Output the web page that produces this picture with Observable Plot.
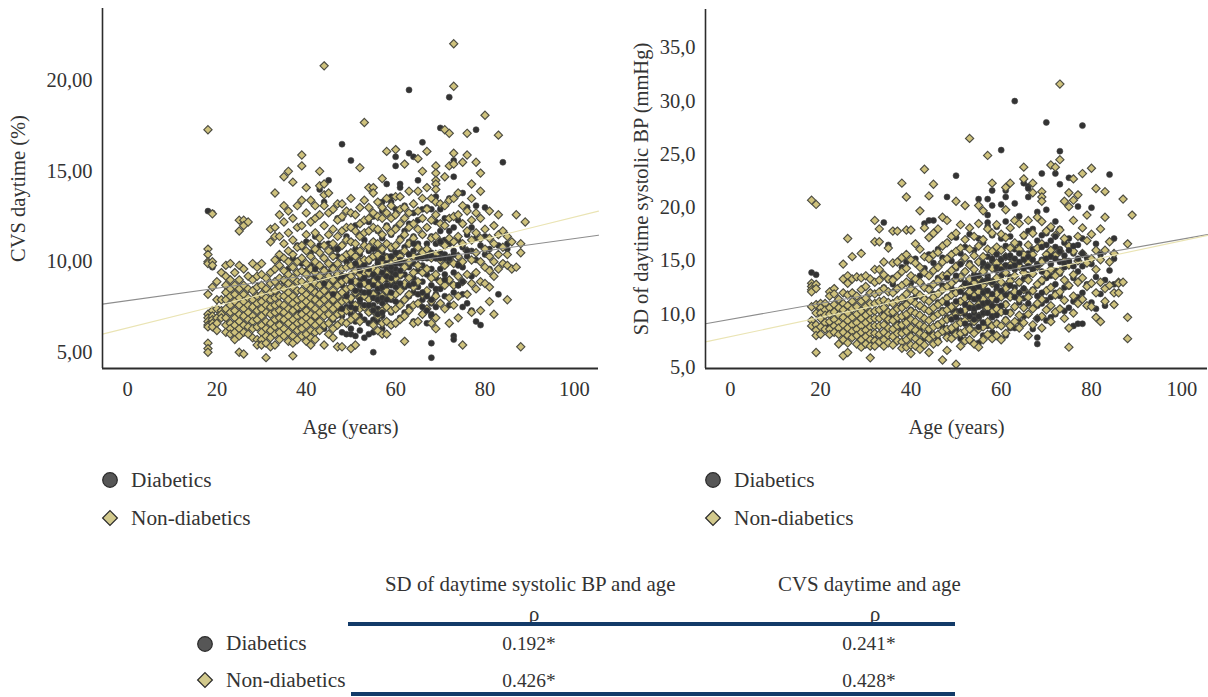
<!DOCTYPE html>
<html><head><meta charset="utf-8">
<script src="https://cdn.jsdelivr.net/npm/d3@7"></script>
<script src="https://cdn.jsdelivr.net/npm/@observablehq/plot@0.6"></script>
<style>
html,body{margin:0;padding:0;background:#fff}
#page{position:relative;width:1208px;height:697px;overflow:hidden;font-family:"Liberation Serif",serif;color:#333}
#page svg{position:absolute;overflow:visible}
.t{position:absolute;white-space:nowrap;font-size:21.3px;line-height:24px;transform:translateY(-50%)}
.h{font-size:20.9px}
.n{font-size:19.4px}
.c{transform:translate(-50%,-50%)}
.r{position:absolute;height:3.5px;background:#123a68}
</style></head><body><div id="page"></div>
<script>
// Each row: age, then the values read at that age.
const cvsNonDiabetics = [
[18,17.3,10.7,10.4,10,9.9,8.2,7.1,6.9,6.7,6.5,6.4,5.5,5.2,5],
[19,12.65,10,9.8,8.6,7.3,7,6.8,6.6,6.4],
[20,8.9,7.9,7.4,6.9,6.6,6.2],[21,9.4,7.9,7.3,7.1,6.9],
[22,9.8,9.2,8.7,8.3,7.9,7.4,6.9,6.5,6.1],[23,9.9,9,8.5,8.1,7.6,7.2,6.6,6.3,6],
[24,9.4,8.7,8.2,7.8,7.3,6.9,6.5,6.1,5.7],[25,12.3,11.7,9.8,9,8.5,8,7.6,7.1,6.7,6.3,5.9,5],
[26,12.3,12,9.6,8.7,8.2,7.8,7.4,7,6.5,6.1,4.9],[27,12.2,9.2,8.5,8,7.6,7.2,6.8,6.4,6],
[28,9.9,9,8.4,7.9,7.5,7,6.7,6.3,5.8],[29,9.7,9.2,8.6,8.1,7.7,7.3,6.8,6.4,5.7,5.4],
[30,9.9,9.3,8.7,8.2,7.8,7.4,7,6.5,6.1,5.7,5.4],[31,9.1,8.5,8,7.6,7.2,6.7,6.3,5.9,5.5,4.7],
[32,11.8,11.1,9.4,8.8,8.3,7.9,7.5,7.1,6.6,6.2,5.8,5.3],[33,13.8,11.9,11.4,10.1,9.6,8.9,8.4,8,7.6,7.2,6.8,6.4,6,5.4],
[34,12.6,11.4,10.4,9.8,9.1,8.6,8.1,7.7,7.3,6.9,6.5,6.1,5.7],[35,14.7,13.1,12.2,11,10.2,9.5,9,8.5,8.1,7.6,7.2,6.8,6.3,5.9],
[36,15,12.8,11.6,10.6,10,9.3,8.8,8.3,7.9,7.4,7,6.6,6.1,5.6],[37,14.4,12.4,11.2,10.4,9.7,9.1,8.6,8.1,7.7,7.3,6.8,6.4,5.9,5.5,4.8],
[38,13.1,11.9,10.8,10,9.4,8.9,8.4,7.9,7.5,7,6.6,6.2,5.7],[39,15.9,15.3,13.4,12,10.9,10.2,9.5,8.9,8.4,8,7.6,7.1,6.7,6.3,5.9],
[40,14.1,12.7,11.5,10.6,9.9,9.3,8.7,8.2,7.8,7.3,6.9,6.5,6,5.6],[41,13.4,12.2,11,10.3,9.6,9,8.5,8,7.6,7.1,6.7,6.2,5.8,5.4],
[42,13.1,12.4,11.6,10.7,10,9.4,8.8,8.3,7.9,7.4,7,6.5,6.1,5.7],[43,15,14.2,12.6,11.3,10.5,9.8,9.2,8.7,8.2,7.7,7.2,6.7,6.2],
[44,20.83,14.3,13.7,13.1,12,10.9,10.2,9.5,8.9,8.4,7.9,7.4,7,6.5,5.4],[45,13.8,12.7,11.5,10.6,9.9,9.2,8.7,8.1,7.6,7.1,6.6,6],
[46,12.9,11.8,11,10.3,9.6,9,8.4,7.9,7.4,6.9,6.3,5.8],[47,13.2,12.3,11.4,10.7,9.9,9.3,8.7,8.1,7.6,7.1,6.5,5.3],
[48,13.2,12.5,11.7,10.9,10.2,9.6,8.9,8.3,7.8,7.2,6.7,5.3],[49,12.8,11.9,11.2,10.4,9.7,9,8.5,7.9,7.3,6.6],
[50,13.5,12.7,11.9,11.1,10.5,9.8,9.2,8.6,8,7.4,6.8,5.2],[51,12.6,11.7,11,10.3,9.5,8.9,8.3,7.6,7,5.4],
[52,15.2,13,12.1,11.4,10.6,10,9.3,8.7,8,7.4,6.7],[53,17.7,13.4,12.3,11.6,10.9,10.1,9.4,8.8,8.1,7.5],
[54,14.1,13,12.4,11.7,10.8,10.1,9.4,8.6,7.9,7.2],[55,14.1,13.8,12.7,11.9,11.1,10.3,9.6,8.9,8.2,7.3,6.5],
[56,13.3,12.5,11.8,11,10.4,9.5,8.7,7.9,7,6.2],[57,14.6,13,12.4,11.5,10.7,9.9,9,8.1,7.3,6.6,6],
[58,16.1,13.5,12.7,11.9,11,10.2,9.3,8.4,7.5,6.7,6],[59,13.1,12.4,11.6,10.8,9.9,9,8.1,7.3,6.5],
[60,16.2,13.6,12.6,11.8,10.9,10.1,9.1,8.2,7.4,6.6],[61,13.6,12.9,12.1,11.2,10.3,9.3,8.4,7.6,6.8],
[62,15.4,13,12.4,11.5,10.6,9.7,8.8,7.9,7,5.6],[63,13.9,12.7,11.9,11,10,9.1,8.2,7.3],
[64,13.2,12.1,11.3,10.3,9.4,8.6,7.6,6.6],[65,15.7,13.9,12.8,11.8,10.8,9.8,8.9,7.7,6.7],
[66,15,13.5,12.4,11.5,10.5,9.4,8.2,7.1],[67,16.1,14.1,12.9,11.9,10.7,9.6,8.4,7.4],
[68,13.5,12.3,11.3,10.2,9.1,7.8,6.6],[69,15.3,14.9,14.5,14.3,14,13.3,12.6,11.4,10.4,9.3,8.1,6.9,6.3],
[70,13.2,12.1,11.1,10.1,8.9,7.7],[71,17.3,14.7,13.1,12,10.9,9.8,8.7,7.4],
[72,17.1,15.3,13.4,12.4,11.3,10.2,9,8,6.6],[73,22.05,19.7,16,15.4,13.5,12.5,11.1,9.9,8.7,7.6],
[74,13.8,12.6,11.4,10.3,9.2,8.1,6.9],[75,15.5,13.1,12.1,11,10,8.9,5.4],
[76,17.1,15.9,12.8,11.7,10.6,9.3,8.2],[77,14.3,13.5,12.3,11.2,10.1,8.8,7.2],
[78,15.5,12.7,11.6,10.5,9.4,8.5],[79,14.9,13.9,12.4,11.3,10,7.3,8.9],
[80,18.1,11.8,10.7,9.7,8.8],[81,12.8,11.3,10.3,9.5,7.8,8.6],
[82,12,11,10,7.1,9.2],[83,17,12.6,11.5,10.4,9.6],[84,11.7,10.8,9.9],[85,11.4,10.4,9.8,7.9],
[86,11.1,9.6],[87,12.6,9.7],[88,11,10.5,5.3],[89,12.2]
];
const cvsDiabetics = [
[18,12.8],[19,12.7,9.7],[20,6.9],[22,6.9],[25,5.9],[31,5.9],[33,8.3],[34,10.2,6.9,6.7],[35,11,8.9],[36,9.6,8.1],[37,10.2,7.4],
[38,10.9,9.4,7.2],[39,10.8,9.9,8.4,7.2],[40,11.1,9.5,8.2,7.5,6.6],[41,10.5,9.8,8.7,7.8,7],[42,11.4,9.2,8.4,6.9],
[43,14,10.9,9.1,8,7.1],[44,13.3,10.2,9.6,8.6,7.4,6.3],[45,14.5,11,9.4,8.2,7.6],[46,10.7,9.8,8.8,7.7,6.8],
[47,12.4,10.3,9.1,8.2,7.3,6.5],[48,16.5,12.4,10.9,9.6,8.7,7.9,7,6.1],[49,11.4,10,9.2,8.3,7.5,6],[50,15.6,11.1,10.2,9.3,8.6,7.8,7.1,6.3,6],
[51,12,10.7,9.6,8.9,8.2,7.4,6.7,5.9],[52,11.5,10.4,9.8,9,8.4,7.7,7,6.2],[53,11.2,10.1,9.4,8.8,8.2,7.5,6.8,5.8],
[54,12.2,10.6,10,9.3,8.7,8,7.2,6.6,6],[55,12.5,11.1,10.3,9.6,9,8.3,7.6,6.8,6.1,5],[56,11.7,10.7,10.1,9.4,8.8,8.2,7.4,6.7],
[57,13.3,12.8,11.3,10.5,9.8,9.1,8.5,7.7,7,6.3],[58,14.3,12,11,10.3,9.6,9,8.3,7.5,6.7],[59,13.6,13.3,11.5,10.7,10,9.4,8.7,7.9,7.2,6.5],
[60,15.8,15.3,12.9,11.9,10.9,10.2,9.6,8.9,8.2,7.4,6.6],[61,14.3,14.1,12.9,11.3,10.5,9.9,9.2,8.5,7.7,6.9],[62,13.1,11.7,10.8,10,9.3,8.6,7.2],
[63,19.5,16,12.1,11.1,10.4,9.7,8.1,7.5],[64,15.8,12.7,11.4,10.6,9.9,9.1,8.3,6.7],[65,14.5,12.3,11,10.3,9.5,8.6,7.7],
[66,16.6,12.9,11.5,10.6,9.8,8.9,7.9,7.1],[67,13,11.9,11,10.2,9.3,8.3,7.4,6.6],[68,12.9,11.4,10.5,9.6,8.7,7.7,7,5.5,4.7],
[69,13.6,12.2,11,10.2,9.1,8.2,7.5],[70,17.4,12.9,11.7,10.5,9.6,8.5],[71,12.4,11.2,10.4,9.3,8.1],[72,19.1,13.5,12.4,11,10,8.9,7.6],
[73,15.6,14.7,11.9,10.6,9.4,8.3,5.9,5.7],[74,12.3,11.2,9.9,8.7],[75,13.8,12.1,10.8,9.7,8.2,7.5],[76,13,11.5,10.3,7.7],
[77,11.9,10.6,9.2,7.3],[78,17.3,13.1,11.3,10.1,6.7],[79,10.9,6.5],[80,13,11.4,10.4],[81,10.7,9.6],[83,10.9,8.2],[84,15.5,9.9],[85,11,10.7]
];
// Diabetic points that sit in front of the diamonds.
const cvsDiabeticsFront = [
[42,9.6],[44,8.8],[46,8.2],[47,10.7],[48,9.2,7.4],[49,8.1],[50,8.9,7.5],[51,9.9,8.4,7.4],[52,9.5,8.7,7.9],
[53,9.8,9.1,8.3,7.6],[54,9.6,8.9,8.3,7.6],[55,10.7,9.3,8.7,8,7.3],[56,9.9,9.1,8.5,7.9,7.1],[57,10.2,9.4,8.6,8,7.2],
[58,9.9,9.2,8.7,7.9],[59,10.3,9.7,9.1,8.3],[60,10.5,9.9,9.3,8.6,7.8],[61,10.1,9.5,8.8],
[63,10.4,8.7],[64,11,8.8],[65,10.2,8.2],[66,10.2,8.3,7.5],[67,10.3,8.1,7.3],[68,10.3,7.9,7.1],[69,10.2,8.5],[70,11.1,10.2],[71,10.2,9],[72,11.7,10.2],[73,10.4],[74,9.8,8.7],[75,8.9],[76,10.6]
];
const sdNonDiabetics = [
[18,20.7,12.9,12.6,12.3,12.1,10.7,9.4,8.9],[19,20.3,12.8,12.4,10.9,10.1,9,8.5,8,6.4],
[20,11,10.6,10.1,9.6,8.8,8.1],[21,11,10.4,9.9,9.2,8.6],[22,12.1,11.7,10.6,10,9.3,8.6,8.1],[23,12.4,11.9,10.9,10.2,9.5,8.9,8.3],
[24,11.4,10.6,9.9,9.2,8.7,8.1,7.2],[25,14.7,13.3,12,11,10.4,9.7,9,8.3,7.6,6.1],[26,17.1,13.6,12.9,11.8,10.8,10.1,9.4,8.7,8,7.3,6.4],
[27,15.4,13.3,12,11.2,10.5,9.7,9,8.4,7.8],[28,13.5,11.7,10.7,10,9.2,8.6,8,7.2],[29,15.7,13.4,12.3,11.2,10.3,9.6,8.9,8.3,7.6,6.9],
[30,13.6,12.6,11.5,10.7,9.9,9.2,8.5,7.9,7.2],[31,13.3,12,11,10.2,9.5,8.8,8.2,7.6,7,5.9],[32,18.8,16.8,14.2,13,11.9,11,10.3,9.6,8.9,8.2,7.5,7],
[33,18,16.8,14.2,13.2,12.1,11.2,10.4,9.6,8.9,8.1,7.4],[34,14.9,13.7,12.4,11.3,10.6,9.8,9,8.3,7.6,7],[35,16.2,13.3,12.1,11.1,10.2,9.5,8.7,8,7.3],
[36,17.8,14.8,13.2,12,11,10.2,9.4,8.6,7.9,7.1],[37,17.8,14.9,13.6,12.4,11.3,10.5,9.7,8.9,8.2,7.5],[38,22.3,15.3,14,12.7,11.5,10.6,9.8,9,8.2,7.4,6.8],
[39,21,17.9,15.6,14.3,13,11.9,10.9,10,9.2,8.4,7.6,6.9],[40,17.9,15.1,13.6,12.4,11.3,10.3,9.5,8.7,7.9,7.1,6.3],[41,16.6,14.8,13.3,12.1,11,10.1,9.3,8.5,7.7,7],
[42,19.7,16.1,14.4,13,11.8,10.8,9.9,9,8.2,7.4,6.7],[43,23.6,18.1,15.4,13.9,12.5,11.4,10.5,9.6,8.8,8,7.1],[44,21.1,17.2,15.2,13.6,12.3,11.2,10.3,9.4,8.6,7.7,6.4],
[45,22.2,17.6,15.6,14.1,12.8,11.6,10.6,9.7,8.8,8,7.2],[46,18,15.8,14.4,13.1,11.9,10.9,10,9,8.1,7.4],[47,19.1,16.4,14.9,13.6,12.3,11.2,10.2,9.3,8.4,5.7],
[48,18.8,16.7,15.2,13.7,12.6,11.5,10.4,9.5,8.6,7.8,6.6],[49,17.3,15.6,14.1,12.9,11.8,10.7,9.7,8.7,7.7],[50,20.6,17.6,15.9,14.5,13.3,12,11,10,9,8.1,5.3],
[51,18.4,16.2,14.8,13.5,12.3,11.2,10.2,9.2,8.2,7],[52,20.2,17,15.3,14,12.7,11.5,10.4,9.4,8.4,7.5],[53,26.5,18.1,16.1,14.6,13.3,12.1,10.9,9.7,8.6,7.6],
[54,17.3,15.5,14.2,12.9,11.7,10.5,9.3,8.2,7.2],[55,20.2,18.5,16.4,14.9,13.4,12.1,10.9,9.8,8.6,6.9],[56,19.7,17,15.4,14,12.7,11.4,10.1,8.8,7.6],
[57,24.9,18,16.1,14.5,13.2,11.9,10.6,9.3,8.1],[58,22.3,17.6,15.9,14.3,12.9,11.5,10.2,8.9,7.7],[59,18.4,16.3,14.8,13.4,11.9,10.5,9.1,8],
[60,17.5,16,14.4,13,11.6,10.2,8.9,7.6],[61,21.9,19.8,17.2,15.4,13.9,12.4,10.9,9.4,8.2],[62,22.3,18.1,16.2,14.6,13.1,11.6,10.1,8.9],
[63,18.8,16.7,15,13.6,12.1,10.7,9.3],[64,18.5,16.1,14.5,13,11.4,9.9,8.7],[65,23.8,22.7,17.4,15.6,13.9,12.3,10.6,9.2],
[66,18.8,16.5,14.8,13.2,11.6,10,8],[67,22.3,21.4,17.6,15.6,13.8,12.2,10.5,9],[68,19.1,16.2,14.5,12.8,11,9.6],
[69,21.5,21,20.6,18.7,16.6,14.9,13.2,11.4,9.8,8.7],[70,17.8,15.6,13.8,12.2,10.4],[71,24,18.2,16,14.2,12.5,10.8,9.3],
[72,23.8,17.4,15.5,13.6,11.8,10.2],[73,31.6,24.5,17.9,15.9,14,12.1,10.5],[74,20.6,17.1,15,13.2,11.3,9.6],[75,21.4,20.1,16.4,14.6,12.7,8.7,6.9],
[76,22.7,20.7,18.8,15.9,13.7,11.7,10.1],[77,21.2,17.3,15,13,11],[78,23.2,18.1,15.7,13.4,11.4],[79,19.3,16.9,14.8,12.6,10.8],
[80,23.7,17.5,15.2,12.9,10.7],[81,21.8,16,14.2,12,9.7],[82,18,15.1,13,9.3],[83,21.5,19.1,16,12.4,11.2],[84,16.8,14.9,12.7],
[85,15.7,12,10.9],[86,13,12.9,12],[87,20.8,13],[88,16.6,9.7,7.7],[89,19.3]
];
const sdDiabetics = [
[18,13.9],[19,13.7],[22,9],[29,6.9],[32,7.6],[34,18.6,12.5,10.2,9.9],[35,16.5,13.2,9.4],[36,13.4,12.8,9.7],[37,13.6,9.2,8.2],[38,14.4,10.8,8.7],
[39,14.9,11.1,9.6],[40,12.9,10.4,8.4],[41,15.2,11.6,9.2],[42,13.6,10.7,8.6],[43,18.5,14.3,11.5,9.5,7.7],[44,18.8,15.6,12.6,10.3,8.3],
[45,18.8,14.8,11.9,9.9,8.1],[46,16.1,13.4,11.1,9.1,7.6],[47,15.3,12.7,10.4,8.8],[48,21,16.7,13.6,11.6,9.7,8],[49,15,12.4,10.4,8.4],
[50,23,17.2,14.3,12.2,10.3,8.6],[51,15.7,13.3,11.3,9.4,7.7],[52,16.3,14,11.8,10,8.2],[53,17.5,14.8,12.6,10.6,8.9,7.5],[54,16,13.7,11.9,10.1,8.5],
[55,20.8,17.1,14.9,13,11.2,9.6,7.3],[56,16.7,14.4,12.4,10.8,9.2,8],[57,20.8,19.3,18.6,18.2,15.4,13.6,11.9,10.4,8.9],[58,21.6,20.2,17.4,15,13.1,11.3,9.7,8.3],
[59,18.2,16.2,14.1,12.3,10.7,9.2],[60,25.4,20.3,17.1,15.2,13.6,11.9,10.3,8.9],[61,21.6,21,18.7,16.4,14.5,12.7,11,9.5,8],[62,17.3,15.3,13.5,11.9,10.2,8.7],
[63,30,20.4,16.1,14.2,12.5,10.7,8.7],[64,19.2,16.6,14.7,12.9,11.1,9.3],[65,22.3,17.3,15.3,13.3,11.5,9.8],[66,22,21.8,21,17.8,15.7,13.7,11.9,10],
[67,18,16.1,14.2,12.3,10.6,8.6],[68,19.6,16.9,14.7,12.7,10.8,7.8,7.2],[69,23.2,17.4,15.1,13,11],[70,28,19.8,17.6,15.4,13.4,11.3,9.4],
[71,18,15.8,13.6,11.6,9.7],[72,23.2,18.7,16.3,14.1,12,10],[73,25.3,22.2,18,16.1,13.8,11.7],[74,16.7,14.4,12.5,10.3],[75,22.8,17.1,14.9,12.6,10.6],
[76,15.7,13.4,11.2,8.9],[77,20.1,16.5,14,11.6,9.1],[78,27.7,17.1,14.5,12,9.1],[79,15.3,12.8,10.8],[80,20,14.7,11.1],[81,16.6,13.5,10.5],[82,15.6,11.9],
[83,13.2,10.8],[84,23.1,14.1],[85,17.1,15.2,12.8,10.9]
];
const sdDiabeticsFront = [
[48,13.4,11],[49,9.5],[50,13.6,11.2,9.7],[51,14.7,12.1,10.3],[52,12.9,10.9,9.1],[53,12.7,11.6,10.6,9.8],[54,13.4,12.4,11.4,10.5,9.5],[55,13.6,12.6,11.6,10.7,9.8,8.8],
[56,14.8,13.1,12,11,10.1,9.2],[57,14.5,13.3,12.2,11.1,10.1],[58,15.2,13,11.9,10.8,9.8],[59,15.6,14.4,12.6,11.3,9.9],[60,15.1,14.2,12.2,10.8],[61,15.4,14.6,11.8,10.2],
[62,15.5,14.4,12.7],[63,15.2,14.6,11.6],[64,15.7,14.9,12],[65,15.1,14.3,12.4],[66,15.4,14.5,11],[67,15.1,14.2],[68,14.6,11.7,9.6],[69,16.3,14,12],[70,16.5,15.2],
[71,16.9,15.4,14.7],[72,17.3,15.2,12.8],[73,15.9,14.9],[74,15.5,14.8],[75,16,15],[76,16.4,14.5],[77,15.2],[78,15.7]
];
// Fit lines: age and value at both ends of each axis.
const fitAges = [-5.6, 105.4];
const cvsFitDiabetics = [7.66, 11.47], cvsFitNon = [6.0, 12.8];
const sdFitAges = [-5.5, 105.7];
const sdFitDiabetics = [9.1, 17.47], sdFitNon = [7.4, 17.4];
const legendLabels = ["Diabetics", "Non-diabetics"];
const tableHeads = ["SD of daytime systolic BP and age", "CVS daytime and age"];
const tableRho = ["0.192*", "0.426*"], tableCvs = ["0.241*", "0.428*"];

const DARK="#333", KHAKI="#cfc27c";
const expand = rows => rows.flatMap(([age,...vs]) => vs.map(value => ({age,value})));
const page = document.getElementById("page");

function panel({left,width,marginLeft,marginRight,marginTop,xDomain,yDomain,yTicks,yFmt,yLabel,labelOffset,non,dia,front,ages,fitD,fitN}){
  const line = (vals,stroke,w) => Plot.line(ages.map((a,i)=>({a,v:vals[i]})),{x:"a",y:"v",stroke,strokeWidth:w});
  const dots = rows => Plot.dot(expand(rows),{x:"age",y:"value",r:3,fill:DARK,stroke:"#444",strokeWidth:.6});
  const p = Plot.plot({
    width,height:440,marginLeft,marginRight,marginTop,marginBottom:72,
    style:{fontFamily:"'Liberation Serif',serif",fontSize:"20.5px",color:DARK,background:"transparent"},
    x:{domain:xDomain,label:null},y:{domain:yDomain,label:null},
    marks:[
      dots(dia),
      Plot.dot(expand(non),{x:"age",y:"value",symbol:"diamond2",r:3.7,fill:KHAKI,stroke:"#4c4c42",strokeWidth:1.15}),
      dots(front),
      line(fitD,"#8d8d8d",1.1),
      line(fitN,"#eae4b4",1.1),
      Plot.ruleX([xDomain[0]],{stroke:"#2c2c2c",strokeWidth:1.6}),
      Plot.ruleY([yDomain[0]],{stroke:"#2c2c2c",strokeWidth:1.8}),
      Plot.axisX({ticks:[0,20,40,60,80,100],tickSize:0,tickPadding:12.5,label:"Age (years)",labelAnchor:"center",labelArrow:"none",labelOffset:65,stroke:"none",fontSize:20.5}),
      Plot.axisY({ticks:yTicks,tickFormat:d=>d3.format(yFmt)(d).replace(".",","),tickSize:0,tickPadding:10,label:yLabel,labelAnchor:"center",labelArrow:"none",labelOffset,fontSize:20.5})
    ]
  });
  p.style.left=left+"px";p.style.top="0px";
  page.append(p);
}
panel({left:0,width:604,marginLeft:102,marginRight:6,marginTop:8,xDomain:[-5.6,105.4],yDomain:[4.1,24],yTicks:[5,10,15,20],yFmt:".2f",yLabel:"CVS daytime (%)",labelOffset:92,non:cvsNonDiabetics,dia:cvsDiabetics,front:cvsDiabeticsFront,ages:fitAges,fitD:cvsFitDiabetics,fitN:cvsFitNon});
panel({left:604,width:604,marginLeft:101,marginRight:1,marginTop:9,xDomain:[-5.5,105.7],yDomain:[4.9,38.6],yTicks:[5,10,15,20,25,30,35],yFmt:".1f",yLabel:"SD of daytime systolic BP (mmHg)",labelOffset:72,non:sdNonDiabetics,dia:sdDiabetics,front:sdDiabeticsFront,ages:sdFitAges,fitD:sdFitDiabetics,fitN:sdFitNon});

function text(str,x,y,cls){const d=document.createElement("div");d.className="t "+(cls||"");d.textContent=str;d.style.left=x+"px";d.style.top=y+"px";page.append(d);return d;}
function marker(kind,x,y){
  const s=d3.create("svg").attr("width",20).attr("height",20).style("left",(x-10)+"px").style("top",(y-10)+"px");
  if(kind===0) s.append("circle").attr("cx",10).attr("cy",10).attr("r",7.3).attr("fill","#565656").attr("stroke","#2a2a2a").attr("stroke-width",1.2);
  else s.append("path").attr("d","M10 2.6L17.4 10L10 17.4L2.6 10Z").attr("fill","#d2c98c").attr("stroke","#2a2a2a").attr("stroke-width",1.2);
  page.append(s.node());
}
[[110,131],[713,734]].forEach(([mx,tx])=>{
  legendLabels.forEach((l,i)=>{const y=i?518:480;marker(i,mx,y);text(l,tx,y);});
});
text(tableHeads[0],385,584,"h");text(tableHeads[1],778,584,"h");
text("ρ",534,614,"c");text("ρ",875,614,"c");
[[348,624],[351,694]].forEach(([x,y])=>{const r=document.createElement("div");r.className="r";r.style.left=x+"px";r.style.width=(955-x)+"px";r.style.top=(y-2)+"px";page.append(r);});
legendLabels.forEach((l,i)=>{const y=i?680:644;marker(i,205,y);text(l,226,i?680:643);
  text(tableRho[i],529,i?681:644,"c n");text(tableCvs[i],869,i?681:644,"c n");});
</script></body></html>
